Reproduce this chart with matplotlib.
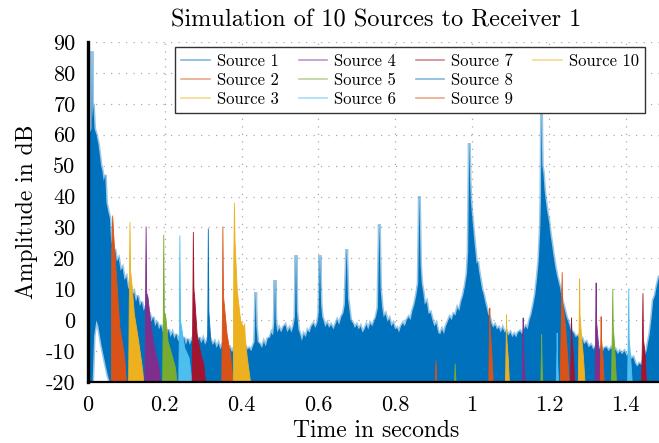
import numpy as np
import matplotlib
matplotlib.use("Agg")
import matplotlib.pyplot as plt
from matplotlib.lines import Line2D

plt.rcParams['font.family'] = 'serif'
plt.rcParams['font.serif'] = ['cmr10', 'DejaVu Serif']
plt.rcParams['axes.unicode_minus'] = False
plt.rcParams['mathtext.fontset'] = 'cm'

# colours per source (matlab default order, repeats after 7)
colors = ['#0072BD', '#D95319', '#EDB120', '#7E2F8E', '#77AC30',
          '#4DBEEE', '#A2142F', '#0072BD', '#D95319', '#EDB120']
labels = ['Source %d' % i for i in range(1, 11)]

# source 1: upper envelope of the response, (time s, level dB)
s1_env = [
    (0.000, -20), (0.002, -20), (0.003, 60), (0.009, 62), (0.0104, 87),
    (0.0115, 65), (0.014, 70), (0.017, 62), (0.022, 60), (0.027, 57),
    (0.031, 53), (0.034, 50), (0.037, 48.5), (0.041, 45), (0.045, 47),
    (0.048, 38), (0.053, 35), (0.057, 33), (0.060, 26), (0.066, 22),
    (0.070, 23), (0.075, 19), (0.080, 20), (0.085, 16), (0.090, 17),
    (0.095, 13), (0.100, 14), (0.105, 10), (0.110, 12), (0.115, 8),
    (0.120, 9), (0.125, 6), (0.130, 8), (0.135, 4.5), (0.140, 6),
    (0.145, 3), (0.150, 4.5), (0.155, 1), (0.160, 2.5), (0.165, -0.5),
    (0.170, 1), (0.175, -2), (0.180, -0.5), (0.185, -3), (0.190, -1.5),
    (0.195, -4), (0.200, -2.5), (0.205, -5), (0.210, -3), (0.215, -5.5),
    (0.220, -4), (0.225, -6), (0.230, -4.5), (0.235, -7), (0.240, -5),
    (0.245, -7), (0.250, -5.5), (0.255, -8), (0.260, -6), (0.265, -8),
    (0.270, -6.5), (0.275, -8.5), (0.280, -6), (0.285, -8), (0.290, -5.5),
    (0.295, -7.5), (0.300, -6), (0.305, -8), (0.310, -6.5), (0.315, -8.5),
    (0.320, -6.5), (0.325, -8), (0.330, -7), (0.335, -9), (0.340, -7.5),
    (0.345, -9.5), (0.350, -8), (0.355, -10), (0.360, -8.5), (0.365, -10),
    (0.370, -9), (0.375, -10.5), (0.380, -9), (0.385, -10), (0.390, -8.5),
    (0.395, -10), (0.400, -9), (0.405, -10), (0.410, -8.5), (0.415, -9.5),
    (0.420, -9), (0.425, -10), (0.430, -8.3), (0.434, -7), (0.4367, 9),
    (0.4385, -2), (0.442, -7), (0.448, -7.8), (0.453, -9), (0.458, -7),
    (0.463, -8.5), (0.468, -6), (0.474, -5.6), (0.478, -4), (0.482, -5),
    (0.485, -1), (0.487, 13), (0.489, 0), (0.493, -4), (0.498, -2.5),
    (0.503, -4), (0.509, -2.2), (0.514, -1.5), (0.519, -3.9), (0.525, -2.5),
    (0.530, -4), (0.535, -2), (0.539, 1), (0.5417, 21), (0.544, 3),
    (0.548, -3), (0.552, -4.4), (0.557, -6.7), (0.562, -4.5), (0.567, -5.5),
    (0.572, -3.3), (0.577, -4), (0.582, -2), (0.587, -1.1), (0.592, -2.5),
    (0.597, -1), (0.601, 2), (0.604, 21), (0.607, 5), (0.610, 1),
    (0.613, 0), (0.618, -2.2), (0.623, -1), (0.628, -2.5), (0.633, -1.5),
    (0.639, -3), (0.644, -1.5), (0.649, 0), (0.654, -1.5), (0.660, 1.1),
    (0.665, 2.2), (0.669, 5), (0.6736, 23), (0.677, 7), (0.680, 4),
    (0.684, 0), (0.690, -1), (0.695, -2.5), (0.700, -1.5), (0.705, -3),
    (0.710, -2), (0.715, -4), (0.720, -3), (0.725, -1.5), (0.730, -3),
    (0.735, -1), (0.740, -2), (0.745, -0.5), (0.750, 1), (0.755, 4),
    (0.7587, 31), (0.762, 10), (0.766, 4), (0.770, 1), (0.775, 2),
    (0.780, -0.5), (0.785, 0.5), (0.790, -2), (0.795, -1), (0.800, -3),
    (0.805, -2.5), (0.810, -4), (0.815, -2), (0.820, -1), (0.825, -2),
    (0.830, 0), (0.835, 1), (0.840, 0), (0.845, 3), (0.850, 5),
    (0.855, 8), (0.860, 12), (0.863, 40), (0.866, 18), (0.869, 12),
    (0.873, 9), (0.877, 5), (0.882, 6), (0.887, 2), (0.892, 2.5),
    (0.897, 0), (0.902, -2), (0.907, -1), (0.912, -4), (0.917, -4.6),
    (0.922, -3), (0.927, -4.5), (0.932, -2), (0.937, -0.5), (0.942, 1),
    (0.947, 0), (0.952, 2), (0.957, 1.5), (0.962, 4), (0.967, 3),
    (0.972, 6), (0.977, 8), (0.982, 11), (0.987, 15), (0.990, 22),
    (0.993, 57.3), (0.995, 45), (0.997, 38.7), (1.000, 34), (1.003, 30),
    (1.006, 25.8), (1.009, 22), (1.012, 18.2), (1.015, 19), (1.018, 16),
    (1.022, 13), (1.026, 10), (1.030, 8.4), (1.034, 6), (1.038, 4),
    (1.042, 1.9), (1.046, 1), (1.050, -1), (1.055, -2.4), (1.060, -1.5),
    (1.065, -3), (1.070, -2.4), (1.075, -4), (1.080, -2.5), (1.085, -4),
    (1.090, -3.5), (1.095, -5), (1.100, -4), (1.105, -5.5), (1.110, -4.5),
    (1.115, -5.6), (1.120, -4), (1.125, -3.5), (1.130, -4.5), (1.135, -3),
    (1.140, -2), (1.145, -3), (1.150, 0), (1.155, 2), (1.160, 5),
    (1.165, 8.4), (1.170, 14), (1.174, 19.3), (1.178, 30), (1.1795, 38.7),
    (1.181, 67), (1.183, 50), (1.186, 47.4), (1.189, 42), (1.192, 38.7),
    (1.196, 35), (1.200, 32.2), (1.204, 28), (1.208, 24.7), (1.212, 21),
    (1.217, 17.1), (1.222, 14), (1.229, 10.6), (1.235, 6.3), (1.240, 4),
    (1.246, 1), (1.252, -1), (1.258, -3.4), (1.264, -4), (1.270, -5.5),
    (1.276, -5), (1.281, -6.6), (1.287, -6), (1.292, -7.7), (1.298, -7),
    (1.304, -8.8), (1.310, -8), (1.316, -9.5), (1.322, -8.5), (1.328, -10),
    (1.333, -9), (1.339, -10.5), (1.345, -9), (1.350, -8.8), (1.356, -10),
    (1.362, -9), (1.368, -10.5), (1.374, -9.5), (1.380, -11), (1.385, -10),
    (1.391, -11), (1.397, -10), (1.403, -11.5), (1.409, -11), (1.415, -12.5),
    (1.420, -12), (1.425, -14), (1.430, -15), (1.436, -14), (1.442, -14.5),
    (1.448, -12), (1.455, -10), (1.459, -7), (1.463, -4.5), (1.468, 1),
    (1.472, 6.4), (1.477, 8), (1.481, 10.8), (1.487, 14), (1.500, 15),
]
# source 1: lower envelope (gap right after the direct sound)
s1_lo_t = [0.000, 0.012, 0.016, 0.022, 0.027, 0.035, 0.045, 0.052, 0.057, 1.500]
s1_lo_db = [-20, -20, -5, 0, -2, -8, -14, -18, -20, -20]

s2_t = [0.0595, 0.0605, 0.063, 0.066, 0.0747, 0.0816, 0.0877, 0.094, 0.099,
        0.903, 0.905, 0.907,
        1.0425, 1.044, 1.045, 1.046, 1.050, 1.054]
s2_db = [-20, 22, 33.9, 27, 10.7, -2.3, -6.6, -12, -20,
         -20, -13, -20,
         -20, -5, 4.1, -3, -10, -20]

s3_t = [0.1045, 0.1065, 0.108, 0.1095, 0.113, 0.1195, 0.128, 0.1355, 0.141, 0.144,
        1.086, 1.0875, 1.0885, 1.0895, 1.093, 1.096]
s3_db = [-20, 10, 31.8, 16, 12, 2, -4.5, -11, -16, -20,
         -20, -8, 1.9, -6, -12, -20]

s4_t = [0.147, 0.1485, 0.150, 0.1515, 0.155, 0.1635, 0.172, 0.180, 0.185, 0.188,
        1.1295, 1.131, 1.132, 1.133, 1.137,
        1.319, 1.3205, 1.322, 1.323, 1.327, 1.331, 1.334]
s4_db = [-20, 5, 30.4, 9, 7.5, -2.3, -8.8, -13, -16, -20,
         -20, -8, 0.9, -8, -20,
         -20, -4, 12.2, 0, -6, -12, -20]

s5_t = [0.193, 0.1948, 0.196, 0.1975, 0.2015, 0.207, 0.217, 0.226, 0.231,
        0.953, 0.955, 0.957,
        1.178, 1.1795, 1.180, 1.181, 1.183,
        1.362, 1.364, 1.3654, 1.3665, 1.370, 1.375]
s5_db = [-20, 2, 27.7, 3, 1, -6.6, -11, -15, -20,
         -20, -14, -20,
         -20, -10, -4.5, -12, -20,
         -20, -4, 10.2, -2, -8, -20]

s6_t = [0.235, 0.2368, 0.238, 0.2395, 0.2425, 0.2505, 0.262, 0.270,
        1.218, 1.220, 1.2205, 1.2215, 1.224,
        1.404, 1.4055, 1.407, 1.408, 1.412, 1.416]
s6_db = [-20, -1, 27.5, 0, -2.3, -8.8, -12, -20,
         -20, -10, -4, -12, -20,
         -20, -5, 10.2, -6, -12, -20]

s7_t = [0.270, 0.2718, 0.273, 0.2745, 0.2765, 0.283, 0.293, 0.300, 0.305,
        1.2555, 1.257, 1.258, 1.259, 1.263, 1.266,
        1.4405, 1.4425, 1.444, 1.445, 1.449, 1.453]
s7_db = [-20, 6, 28.6, 10, 7.5, -4.5, -11, -14, -20,
         -20, -6, 0.9, -5, -12, -20,
         -20, -6, 8.8, -6, -10, -20]

s8_t = [0.309, 0.3108, 0.312, 0.3135, 0.3185, 0.326, 0.335, 0.344]
s8_db = [-20, 2, 29.7, 3, -6.6, -11, -14, -20]

s9_t = [0.347, 0.349, 0.350, 0.3515, 0.361, 0.370, 0.376,
        1.2285, 1.231, 1.2335, 1.2345, 1.238, 1.243, 1.248, 1.252,
        1.3325, 1.334, 1.335, 1.336, 1.340, 1.343]
s9_db = [-20, 5, 30.4, 8, -4.5, -11, -20,
         -20, -2, 15.6, 6, 3, -3, -12, -20,
         -20, -8, 1.3, -6, -12, -20]

s10_t = [0.377, 0.3785, 0.380, 0.3815, 0.3875, 0.3962, 0.4049, 0.4066, 0.4085, 0.4135, 0.422,
         1.2755, 1.2775, 1.279, 1.280, 1.284, 1.289, 1.293]
s10_db = [-20, 20, 38, 25.8, 9.6, 0, -2.3, -1, -6, -12, -20,
          -20, -3, 13.5, 2, -5, -12, -20]

others = [(s2_t, s2_db), (s3_t, s3_db), (s4_t, s4_db), (s5_t, s5_db),
          (s6_t, s6_db), (s7_t, s7_db), (s8_t, s8_db), (s9_t, s9_db),
          (s10_t, s10_db)]

fig = plt.figure(figsize=(6.59, 4.43), dpi=100)
ax = fig.add_axes([88 / 659, 61 / 443, 576 / 659, 340 / 443])

# source 1 as one polygon: upper edge forward, lower edge back
s1_t = [p[0] for p in s1_env]
s1_db = [p[1] for p in s1_env]
px = np.r_[s1_t, s1_lo_t[::-1]]
py = np.r_[s1_db, s1_lo_db[::-1]]
ax.fill(px, py, facecolor='none', edgecolor=colors[0], lw=2.2, alpha=0.4, zorder=2)
ax.fill(px, py, facecolor=colors[0], edgecolor='none', zorder=2)

for k, (t, db) in enumerate(others):
    c = colors[k + 1]
    ax.fill_between(t, db, -20, facecolor=c, edgecolor=c, lw=0.6, zorder=3 + k)

ax.set_xlim(0, 1.5)
ax.set_ylim(-20, 90)
ax.set_xticks(np.arange(0, 1.41, 0.2))
ax.set_xticklabels(['0', '0.2', '0.4', '0.6', '0.8', '1', '1.2', '1.4'])
ax.set_yticks(np.arange(-20, 91, 10))
ax.set_yticklabels([str(v) for v in range(-20, 91, 10)])
ax.tick_params(axis='x', length=0, labelsize=16, pad=10)
ax.tick_params(axis='y', length=0, labelsize=16, pad=9)
ax.grid(True, color='#aaaaaa', linestyle=(0, (1, 5)), lw=0.9)
ax.set_axisbelow(True)
for s in ['top', 'right']:
    ax.spines[s].set_visible(False)
ax.spines['left'].set_linewidth(2.4)
ax.spines['bottom'].set_linewidth(1.6)
ax.spines['left'].set_zorder(20)
ax.spines['bottom'].set_zorder(20)

ax.set_title('Simulation of 10 Sources to Receiver 1', fontsize=17.5, pad=11)
ax.set_xlabel('Time in seconds', fontsize=17, labelpad=3)
ax.set_ylabel('Amplitude in dB', fontsize=17, labelpad=6)

handles = [Line2D([], [], color=c, lw=1.2, alpha=0.5) for c in colors]
names = list(labels)
# two empty slots so the columns come out as 3, 3, 3, 1
handles += [Line2D([], [], color='none'), Line2D([], [], color='none')]
names += ['', '']
leg = ax.legend(handles, names, ncol=4, loc='upper left',
                bbox_to_anchor=((175 - 88) / 576, (382 - 47) / 340),
                borderaxespad=0, fontsize=12, frameon=True, fancybox=False,
                edgecolor='#333333', framealpha=1, borderpad=0.38,
                labelspacing=0.23, handlelength=1.7, handletextpad=0.42,
                columnspacing=1.2)
leg.get_frame().set_linewidth(1.0)
leg.set_zorder(30)

fig.savefig('out.png', dpi=100)
